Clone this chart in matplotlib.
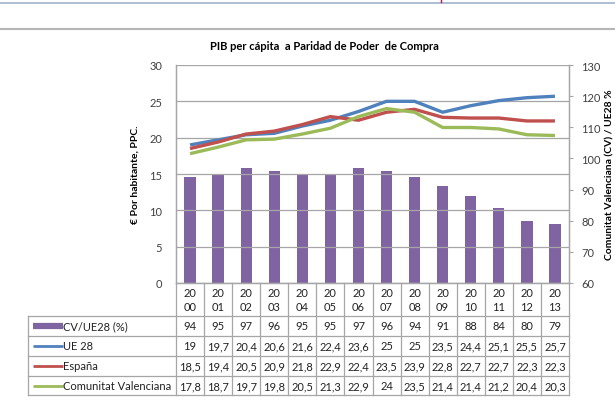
## PIB per cápita a PPC - gráfico combinado con tabla de datos

import numpy as np
import matplotlib.pyplot as plt
from matplotlib.transforms import blended_transform_factory

plt.rcParams['font.family'] = ['Lato', 'DejaVu Sans']

# Datos
anios = ['2000', '2001', '2002', '2003', '2004', '2005', '2006',
         '2007', '2008', '2009', '2010', '2011', '2012', '2013']
cv_ue28 = [94, 95, 97, 96, 95, 95, 97, 96, 94, 91, 88, 84, 80, 79]
ue28 = [19, 19.7, 20.4, 20.6, 21.6, 22.4, 23.6, 25, 25, 23.5, 24.4, 25.1, 25.5, 25.7]
espana = [18.5, 19.4, 20.5, 20.9, 21.8, 22.9, 22.4, 23.5, 23.9, 22.8, 22.7, 22.7, 22.3, 22.3]
cv = [17.8, 18.7, 19.7, 19.8, 20.5, 21.3, 22.9, 24, 23.5, 21.4, 21.4, 21.2, 20.4, 20.3]

series = [('CV/UE28 (%)', cv_ue28, '#8064A2', 'bar'),
          ('UE 28', ue28, '#4F81BD', 'line'),
          ('España', espana, '#C0504D', 'line'),
          ('Comunitat Valenciana', cv, '#9BBB59', 'line')]

W, H = 615, 402
fig = plt.figure(figsize=(W / 100, H / 100), dpi=100)

# zona de trazado en píxeles
x0, x1, yt, yb = 176, 569, 66, 284
ax = fig.add_axes([x0 / W, 1 - yb / H, (x1 - x0) / W, (yb - yt) / H])
ax2 = ax.twinx()

x = np.arange(len(anios))
grid_c = '#A6A6A6'

# barras en el eje derecho
ax2.bar(x, cv_ue28, width=0.4, color='#8064A2', zorder=2)
ax2.set_ylim(60, 130)
ax2.set_yticks(np.arange(60, 131, 10))

# líneas en el eje izquierdo
for name, vals, col, kind in series[1:]:
    ax.plot(x, vals, color=col, lw=2.4, zorder=3, solid_capstyle='butt')
ax.set_ylim(0, 30)
ax.set_yticks(np.arange(0, 31, 5))
ax.set_xlim(-0.5, len(anios) - 0.5)
ax.set_xticks([])
ax.set_zorder(ax2.get_zorder() + 1)
ax.patch.set_visible(False)
ax.yaxis.grid(True, color=grid_c, lw=0.9)
ax.set_axisbelow(True)

for a in (ax, ax2):
    for s in a.spines.values():
        s.set_color(grid_c)
        s.set_linewidth(0.9)
    a.spines['top'].set_visible(False)
ax.tick_params(axis='y', length=0, pad=10, labelsize=8, colors='#404040')
ax2.tick_params(axis='y', length=3, color=grid_c, pad=6, labelsize=8, labelcolor='#404040')

ax.set_ylabel('€ Por habitante, PPC.', fontsize=7.5, fontweight='bold', labelpad=7)
ax2.set_ylabel('Comunitat Valenciana (CV) / UE28 %', fontsize=7.5, fontweight='bold', labelpad=3)

fig.text(324 / W, 1 - 47 / H, 'PIB per cápita  a Paridad de Poder  de Compra',
         ha='center', va='center', fontsize=8, fontweight='bold')

# tabla de datos bajo el gráfico
tr = blended_transform_factory(ax.transData, fig.transFigure)
colw = (x1 - x0) / len(anios)
left = -0.5 - (x0 - 28) / colw
right = len(anios) - 0.5


def fy(py):
    return 1 - py / H


rows_y = [317, 337, 357, 377, 396]
line_kw = dict(color=grid_c, lw=0.9, transform=tr, clip_on=False)
for i in range(len(anios) + 1):
    ax.plot([i - 0.5, i - 0.5], [fy(yb), fy(rows_y[-1])], **line_kw)
ax.plot([left, left], [fy(rows_y[0]), fy(rows_y[-1])], **line_kw)
for py in rows_y:
    ax.plot([left, right], [fy(py), fy(py)], **line_kw)

for i, a in enumerate(anios):
    ax.text(i, fy((yb + rows_y[0]) / 2), a[:2] + '\n' + a[2:], transform=tr,
            ha='center', va='center', fontsize=8, linespacing=1.3, color='#222222')


def fmt(v):
    if float(v).is_integer():
        return str(int(v))
    return ('%.1f' % v).replace('.', ',')


sw0 = left + 5 / colw
sw1 = left + 35 / colw
for r, (name, vals, col, kind) in enumerate(series):
    yc = fy((rows_y[r] + rows_y[r + 1]) / 2)
    if kind == 'bar':
        ax.plot([sw0, sw1], [yc, yc], color=col, lw=4.5, transform=tr,
                clip_on=False, solid_capstyle='butt')
    else:
        ax.plot([sw0, sw1], [yc, yc], color=col, lw=2, transform=tr,
                clip_on=False, solid_capstyle='butt')
    ax.text(sw1, yc, name, transform=tr, ha='left', va='center', fontsize=8, color='#222222')
    for i, v in enumerate(vals):
        ax.text(i, yc, fmt(v), transform=tr, ha='center', va='center',
                fontsize=8, color='#222222')

# cabecera de la página
fig.add_artist(plt.Line2D([0, 1], [fy(4), fy(4)], color='#9EB4CE', lw=1.2))
fig.add_artist(plt.Line2D([0, 1], [fy(30), fy(30)], color='#B5B5B5', lw=1.5))
fig.add_artist(plt.Line2D([441 / W, 441 / W], [fy(0), fy(3)], color='#C0143C', lw=1))

fig.savefig('out.png', dpi=100)
